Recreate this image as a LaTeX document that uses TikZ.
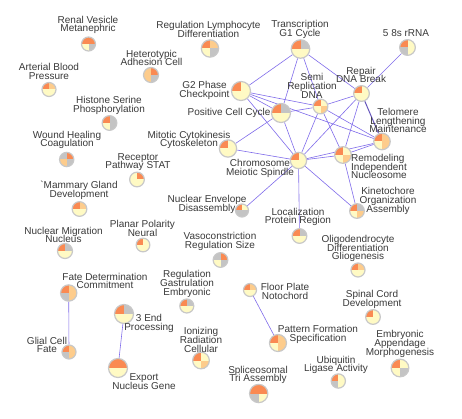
\documentclass[tikz,border=0pt]{standalone}
\usepackage{fontspec}
\setmainfont{Liberation Sans}
\usetikzlibrary{backgrounds}

\definecolor{po}{RGB}{250,138,82}
\definecolor{pl}{RGB}{253,204,140}
\definecolor{py}{RGB}{255,250,196}
\definecolor{pg}{RGB}{196,196,196}
\definecolor{ring}{RGB}{200,200,200}
\definecolor{edgecol}{RGB}{128,108,235}
\definecolor{txt}{RGB}{58,58,58}

\tikzset{
  pie/.style n args={5}{circle, inner sep=0pt, minimum size=#1, draw=ring, line width=1.2pt,
    path picture={
      \fill[#2] (path picture bounding box.center) rectangle (path picture bounding box.north west);
      \fill[#3] (path picture bounding box.center) rectangle (path picture bounding box.north east);
      \fill[#4] (path picture bounding box.center) rectangle (path picture bounding box.south west);
      \fill[#5] (path picture bounding box.center) rectangle (path picture bounding box.south east);
    }},
  lbl/.style={align=center, inner sep=0pt, text=txt, font={\fontsize{10}{8.8}\selectfont\lineskiplimit=-6pt}},
  link/.style={draw=edgecol, line width=0.6pt},
  strong/.style={draw=edgecol!80!black, line width=1pt},
}

\begin{document}
\begin{tikzpicture}[x=1pt,y=-1pt]
\useasboundingbox (0,0) rectangle (462,419);

% term nodes (quadrant pies)
\node[pie={14pt}{po}{po}{py}{pg}] (renal) at (88.5,44) {};
\node[pie={14pt}{po}{pl}{py}{py}] (arterial) at (49,89.5) {};
\node[pie={15pt}{pl}{po}{pl}{pg}] (hetero) at (151,75) {};
\node[pie={14.7pt}{po}{pg}{py}{pg}] (histone) at (109.5,123) {};
\node[pie={17.3pt}{po}{pl}{py}{pg}] (lympho) at (210,48.5) {};
\node[pie={18.5pt}{po}{pg}{py}{py}] (transcr) at (300.5,49) {};
\node[pie={15.7pt}{po}{py}{pg}{py}] (rrna) at (407.5,47.5) {};
\node[pie={19pt}{po}{py}{py}{py}] (g2) at (241,91) {};
\node[pie={19pt}{po}{pg}{py}{py}] (positive) at (281,113) {};
\node[pie={14.7pt}{po}{py}{py}{pl}] (semi) at (320.5,106.5) {};
\node[pie={15.7pt}{po}{py}{py}{py}] (repair) at (361.5,93.5) {};
\node[pie={16.5pt}{po}{pl}{py}{pl}] (telomere) at (382,141.5) {};
\node[pie={16.7pt}{po}{py}{py}{pl}] (remodel) at (343,155) {};
\node[pie={16.3pt}{po}{py}{py}{py}] (chromo) at (298.5,160.5) {};
\node[pie={17.3pt}{po}{py}{py}{py}] (mitotic) at (228,148.5) {};
\node[pie={14.7pt}{po}{pg}{py}{pl}] (kineto) at (357,211) {};
\node[pie={13pt}{po}{py}{pg}{pg}] (nucenv) at (242,210.5) {};
\node[pie={14.7pt}{po}{pg}{py}{py}] (local) at (299.5,236) {};
\node[pie={14.7pt}{pg}{po}{py}{pg}] (vaso) at (220.5,260) {};
\node[pie={14.3pt}{pg}{po}{pl}{pg}] (wound) at (66.7,159.5) {};
\node[pie={14.7pt}{py}{po}{py}{py}] (receptor) at (137,179.5) {};
\node[pie={14.7pt}{po}{pl}{py}{py}] (mammary) at (79.5,209) {};
\node[pie={15pt}{po}{pg}{py}{py}] (nucmig) at (65,251) {};
\node[pie={13.7pt}{po}{py}{py}{py}] (planar) at (143,245) {};
\node[pie={14pt}{po}{pl}{py}{py}] (oligo) at (358,270) {};
\node[pie={16.3pt}{po}{pl}{pg}{pl}] (fate) at (68.7,293) {};
\node[pie={14pt}{po}{pl}{pg}{pl}] (glial) at (69,352) {};
\node[pie={19pt}{po}{pg}{py}{py}] (threeend) at (124,314) {};
\node[pie={19pt}{po}{po}{py}{py}] (export) at (118,368) {};
\node[pie={14pt}{po}{pg}{py}{py}] (gastru) at (186.8,306) {};
\node[pie={13pt}{po}{pl}{py}{py}] (floor) at (250,290) {};
\node[pie={16.7pt}{po}{py}{py}{pl}] (ionizing) at (201,360.5) {};
\node[pie={17pt}{po}{pl}{py}{pl}] (pattern) at (278,343) {};
\node[pie={18.3pt}{po}{po}{pg}{py}] (splice) at (258.7,393.5) {};
\node[pie={14.7pt}{po}{py}{py}{py}] (spinal) at (373,317) {};
\node[pie={17.7pt}{po}{py}{py}{pg}] (embryo) at (400,368) {};
\node[pie={14.3pt}{po}{py}{pg}{py}] (ubiq) at (338.3,381) {};

% labels
\node[lbl] (t-renal) at (88,25) {Renal Vesicle\\Metanephric};
\node[lbl] (t-arterial) at (49,71.5) {Arterial Blood\\Pressure};
\node[lbl] (t-hetero) at (151.5,58) {Heterotypic\\Adhesion Cell};
\node[lbl] (t-histone) at (109,105.5) {Histone Serine\\Phosphorylation};
\node[lbl] (t-lympho) at (208.5,29.5) {Regulation Lymphocyte\\Differentiation};
\node[lbl] (t-transcr) at (300,29.5) {Transcription\\G1 Cycle};
\node[lbl] (t-rrna) at (406,33.5) {5 8s rRNA};
\node[lbl] (t-g2) at (204.5,90.5) {G2 Phase\\Checkpoint};
\node[lbl] (t-positive) at (229,113) {Positive Cell Cycle};
\node[lbl] (t-semi) at (312,86) {Semi\\Replication\\DNA};
\node[lbl] (t-repair) at (361,75) {Repair\\DNA Break};
\node[lbl] (t-telomere) at (398,120.5) {Telomere\\Lengthening\\Maintenance};
\node[lbl, align=left, anchor=west] (t-remodel) at (351,166.5) {Remodeling\\Independent\\Nucleosome};
\node[lbl] (t-chromo) at (260,168.5) {Chromosome\\Meiotic Spindle};
\node[lbl] (t-mitotic) at (189,140) {Mitotic Cytokinesis\\Cytoskeleton};
\node[lbl] (t-receptor) at (138,162) {Receptor\\Pathway STAT};
\node[lbl] (t-wound) at (67,140) {Wound Healing\\Coagulation};
\node[lbl] (t-mammary) at (79,190) {\textasciigrave Mammary Gland\\Development};
\node[lbl] (t-nucmig) at (63.5,235) {Nuclear Migration\\Nucleus};
\node[lbl] (t-planar) at (142.5,228.5) {Planar Polarity\\Neural};
\node[lbl] (t-nucenv) at (207,204.5) {Nuclear Envelope\\Disassembly};
\node[lbl] (t-local) at (298,217) {Localization\\Protein Region};
\node[lbl] (t-kineto) at (388,201) {Kinetochore\\Organization\\Assembly};
\node[lbl] (t-vaso) at (220,241.5) {Vasoconstriction\\Regulation Size};
\node[lbl] (t-oligo) at (358,248.5) {Oligodendrocyte\\Differentiation\\Gliogenesis};
\node[lbl] (t-fate) at (105,281) {Fate Determination\\Commitment};
\node[lbl] (t-glial) at (47,345) {Glial Cell\\Fate};
\node[lbl] (t-threeend) at (149,323.5) {3 End\\Processing};
\node[lbl] (t-export) at (144,381.5) {Export\\Nucleus Gene};
\node[lbl] (t-gastru) at (187,284) {Regulation\\Gastrulation\\Embryonic};
\node[lbl] (t-ionizing) at (201,340) {Ionizing\\Radiation\\Cellular};
\node[lbl] (t-floor) at (285,291.5) {Floor Plate\\Notochord};
\node[lbl] (t-pattern) at (318,334.5) {Pattern Formation\\Specification};
\node[lbl] (t-splice) at (258,375) {Spliceosomal\\Tri Assembly};
\node[lbl] (t-spinal) at (372,299.5) {Spinal Cord\\Development};
\node[lbl] (t-embryo) at (400,344) {Embryonic\\Appendage\\Morphogenesis};
\node[lbl] (t-ubiq) at (336,365) {Ubiquitin\\Ligase Activity};

% links
\begin{scope}[on background layer]
\fill[white] (0,0) rectangle (462,419);
\foreach \a/\b in {transcr/g2, transcr/positive, transcr/semi, transcr/repair,
    g2/positive, g2/semi, g2/chromo, g2/telomere,
    positive/semi, positive/mitotic, positive/chromo,
    semi/repair, semi/telomere, semi/remodel, semi/chromo,
    repair/rrna, repair/remodel, repair/chromo,
    chromo/mitotic, chromo/nucenv, chromo/local, chromo/kineto, chromo/remodel, chromo/telomere,
    remodel/telomere, remodel/kineto,
    fate/glial, threeend/export, floor/pattern}
  \draw[link] (\a) -- (\b);
\draw[strong] (repair) -- (telomere);
\end{scope}
\end{tikzpicture}
\end{document}
